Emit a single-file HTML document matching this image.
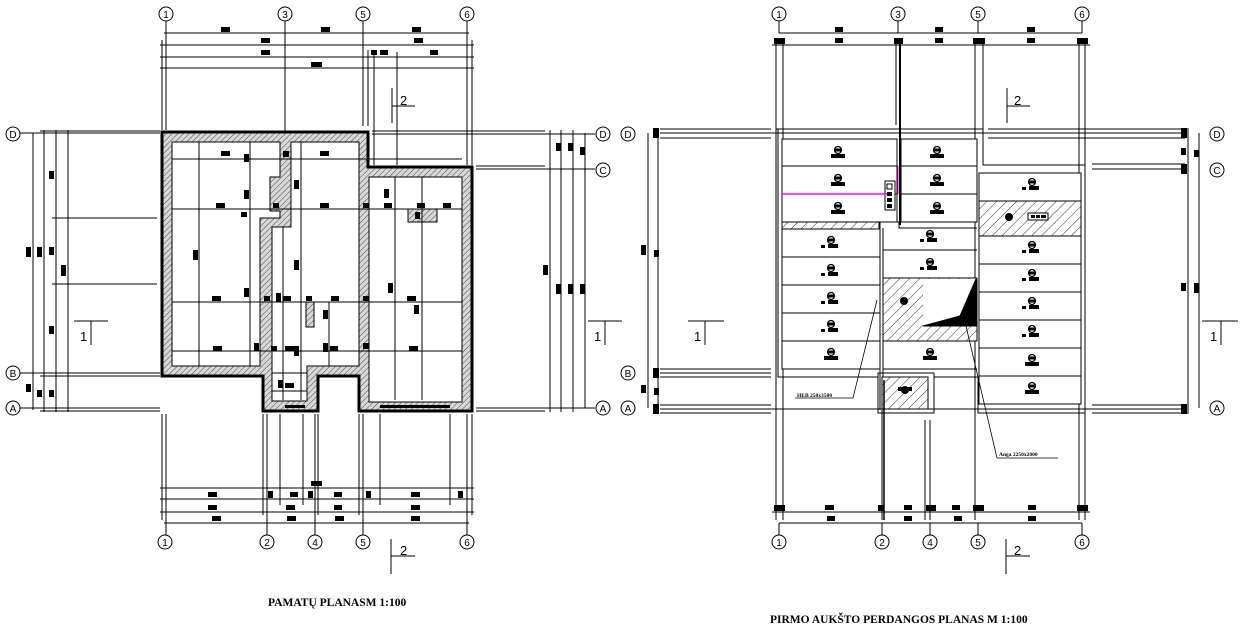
<!DOCTYPE html>
<html><head><meta charset="utf-8"><style>
html,body{margin:0;padding:0;background:#fff;}
svg{display:block;}
</style></head><body>
<svg width="1240" height="644" viewBox="0 0 1240 644" xmlns="http://www.w3.org/2000/svg" font-family="Liberation Sans, sans-serif">
<defs>
<pattern id="h" width="4" height="4" patternUnits="userSpaceOnUse" patternTransform="rotate(45)">
<rect width="4" height="4" fill="#d8d8d8"/><line x1="0" y1="0" x2="0" y2="4" stroke="#222" stroke-width="0.8"/></pattern>
<pattern id="h2" width="7" height="7" patternUnits="userSpaceOnUse" patternTransform="rotate(45)">
<rect width="7" height="7" fill="#fff"/><line x1="0" y1="0" x2="0" y2="7" stroke="#000" stroke-width="0.8"/></pattern>
<g id="sl"><circle cx="0" cy="0" r="3.5" fill="#fff" stroke="#000" stroke-width="1.2"/><rect x="-3" y="-1.5" width="6" height="3"/><rect x="-7" y="4" width="14" height="4"/></g>
<g id="sl2"><circle cx="0" cy="0" r="3.5" fill="#fff" stroke="#000" stroke-width="1.2"/><rect x="-3" y="-1.5" width="6" height="3"/><rect x="-3" y="4" width="10" height="4"/><rect x="-10" y="5" width="4" height="3"/></g>
</defs>
<g stroke="#000" stroke-width="1" fill="none">
<line x1="166" y1="21" x2="166" y2="130"/><line x1="285" y1="21" x2="285" y2="132"/><line x1="363" y1="21" x2="363" y2="126"/><line x1="467" y1="21" x2="467" y2="165"/>
<line x1="162" y1="40" x2="162" y2="130"/><line x1="472" y1="40" x2="472" y2="165"/>
<line x1="368" y1="50" x2="368" y2="126"/><line x1="374" y1="55" x2="374" y2="165"/><line x1="397" y1="52" x2="397" y2="165"/>
<line x1="164" y1="33" x2="469" y2="33"/><line x1="160" y1="45" x2="474" y2="45"/><line x1="160" y1="57" x2="474" y2="57"/><line x1="160" y1="68" x2="474" y2="68"/>
<line x1="20" y1="133" x2="160" y2="133"/><line x1="40" y1="131" x2="160" y2="131"/>
<line x1="372" y1="131" x2="545" y2="131"/><line x1="372" y1="134" x2="595" y2="134"/>
<line x1="476" y1="166" x2="545" y2="166"/><line x1="476" y1="169" x2="595" y2="169"/>
<line x1="20" y1="373" x2="160" y2="373"/><line x1="40" y1="376" x2="160" y2="376"/>
<line x1="20" y1="408" x2="160" y2="408"/><line x1="40" y1="411" x2="160" y2="411"/>
<line x1="476" y1="408" x2="595" y2="408"/><line x1="476" y1="411" x2="545" y2="411"/>
<line x1="52" y1="218" x2="157" y2="218"/><line x1="52" y1="284" x2="157" y2="284"/>
<line x1="33" y1="133" x2="33" y2="410"/><line x1="44" y1="130" x2="44" y2="412"/><line x1="56" y1="130" x2="56" y2="412"/><line x1="68" y1="130" x2="68" y2="412"/>
<line x1="550" y1="130" x2="550" y2="412"/><line x1="561" y1="130" x2="561" y2="412"/><line x1="573" y1="130" x2="573" y2="412"/><line x1="585" y1="133" x2="585" y2="408"/>
<line x1="162" y1="414" x2="162" y2="520"/><line x1="166" y1="414" x2="166" y2="535"/>
<line x1="263" y1="414" x2="263" y2="515"/><line x1="267" y1="414" x2="267" y2="535"/><line x1="280" y1="414" x2="280" y2="505"/><line x1="303" y1="414" x2="303" y2="505"/>
<line x1="315" y1="414" x2="315" y2="535"/><line x1="318" y1="414" x2="318" y2="515"/>
<line x1="359" y1="414" x2="359" y2="515"/><line x1="363" y1="414" x2="363" y2="535"/><line x1="380" y1="414" x2="380" y2="505"/><line x1="450" y1="414" x2="450" y2="505"/>
<line x1="467" y1="414" x2="467" y2="535"/><line x1="472" y1="414" x2="472" y2="515"/>
<line x1="160" y1="488" x2="474" y2="488"/><line x1="160" y1="499" x2="474" y2="499"/><line x1="160" y1="512" x2="474" y2="512"/><line x1="164" y1="523" x2="469" y2="523"/>
<path d="M162,132 H368 V167 H472 V411 H359 V376 H318 V411 H263 V376 H162 Z" fill="url(#h)"/>
<path d="M172,142 H280 V177 H270 V211 H280 V218 H260 V366 H172 Z" fill="#fff"/>
<path d="M291,142 H359 V366 H307 V401 H272 V227 H291 Z" fill="#fff"/>
<path d="M369,177 H462 V402 H369 Z" fill="#fff"/>
<rect x="306" y="302" width="8" height="25" fill="url(#h)"/>
<rect x="408" y="209" width="29" height="13" fill="url(#h)"/>
<path d="M162,132 H368 V167 H472 V411 H359 V376 H318 V411 H263 V376 H162 Z" stroke-width="3"/>
<line x1="172" y1="159" x2="462" y2="159"/><line x1="172" y1="209" x2="462" y2="209"/><line x1="172" y1="302" x2="462" y2="302"/><line x1="172" y1="351" x2="462" y2="351"/>
<line x1="199" y1="142" x2="199" y2="366"/><line x1="250" y1="142" x2="250" y2="366"/><line x1="283" y1="227" x2="283" y2="400"/><line x1="301" y1="142" x2="301" y2="400"/><line x1="329" y1="302" x2="329" y2="366"/><line x1="395" y1="177" x2="395" y2="400"/><line x1="422" y1="177" x2="422" y2="400"/>
<line x1="272" y1="373" x2="307" y2="373"/><line x1="272" y1="391" x2="307" y2="391"/>
<line x1="392" y1="88" x2="392" y2="123"/><line x1="392" y1="106" x2="415" y2="106"/>
<line x1="391" y1="539" x2="391" y2="574"/><line x1="391" y1="556" x2="415" y2="556"/>
<line x1="74" y1="321" x2="108" y2="321"/><line x1="91" y1="321" x2="91" y2="345"/>
<line x1="588" y1="321" x2="622" y2="321"/><line x1="605" y1="321" x2="605" y2="345"/>

<line x1="779" y1="21" x2="779" y2="33"/><line x1="898" y1="21" x2="898" y2="33"/><line x1="978" y1="21" x2="978" y2="33"/><line x1="1082" y1="21" x2="1082" y2="33"/>
<line x1="779" y1="33" x2="1082" y2="33"/><line x1="772" y1="45" x2="1090" y2="45"/>
<line x1="776" y1="40" x2="776" y2="520"/><line x1="783" y1="40" x2="783" y2="520"/>
<line x1="896" y1="40" x2="896" y2="125"/><line x1="900" y1="40" x2="900" y2="225" stroke-width="2"/>
<line x1="975" y1="40" x2="975" y2="520"/><line x1="983" y1="40" x2="983" y2="165"/>
<line x1="1079" y1="40" x2="1079" y2="520"/><line x1="1085" y1="40" x2="1085" y2="520"/>
<line x1="660" y1="129" x2="771" y2="129"/><line x1="660" y1="133" x2="1185" y2="133"/><line x1="660" y1="138" x2="771" y2="138"/>
<line x1="988" y1="129" x2="1185" y2="129"/><line x1="988" y1="138" x2="1185" y2="138"/>
<line x1="776" y1="129" x2="983" y2="129"/>
<line x1="1092" y1="164" x2="1185" y2="164"/><line x1="1092" y1="169" x2="1185" y2="169"/><line x1="983" y1="165" x2="1085" y2="165"/>
<line x1="660" y1="369" x2="771" y2="369"/><line x1="660" y1="373" x2="771" y2="373"/><line x1="660" y1="377" x2="771" y2="377"/>
<line x1="660" y1="405" x2="771" y2="405"/><line x1="660" y1="409" x2="1185" y2="409"/><line x1="660" y1="413" x2="771" y2="413"/>
<line x1="1092" y1="405" x2="1185" y2="405"/><line x1="1092" y1="413" x2="1185" y2="413"/>
<line x1="648" y1="133" x2="648" y2="408"/><line x1="658" y1="128" x2="658" y2="414"/>
<line x1="1188" y1="128" x2="1188" y2="414"/><line x1="1199" y1="133" x2="1199" y2="408"/>
<path d="M778,129 H983 V165 H1085 V413 H978 V377 H934 V413 H878 V377 H778 Z"/>
<rect x="782" y="139" width="115" height="83" fill="#fff"/>
<line x1="782" y1="166" x2="897" y2="166"/><line x1="782" y1="194" x2="897" y2="194"/>
<rect x="782" y="222" width="97" height="7" fill="url(#h2)"/>
<rect x="782" y="229" width="98" height="140" fill="#fff"/>
<line x1="782" y1="257" x2="880" y2="257"/><line x1="782" y1="285" x2="880" y2="285"/><line x1="782" y1="313" x2="880" y2="313"/><line x1="782" y1="341" x2="880" y2="341"/>
<rect x="901" y="139" width="76" height="83" fill="#fff"/>
<line x1="901" y1="166" x2="977" y2="166"/><line x1="901" y1="194" x2="977" y2="194"/>
<path d="M880,222 H899 V228 H977" /><line x1="880" y1="222" x2="880" y2="410"/><line x1="883" y1="228" x2="883" y2="410"/>
<line x1="883" y1="250" x2="977" y2="250"/><line x1="883" y1="278" x2="977" y2="278"/>
<rect x="883" y="278" width="94" height="63" fill="url(#h2)"/>
<rect x="923" y="279" width="53" height="47" fill="#fff" stroke="none"/>
<path d="M923,326 L960,316 L976,279 V326 Z" fill="#000"/>
<line x1="883" y1="341" x2="977" y2="341"/><line x1="883" y1="369" x2="977" y2="369"/>
<rect x="882" y="377" width="46" height="32" fill="url(#h2)"/>
<rect x="878" y="373" width="56" height="40"/>
<rect x="979" y="173" width="102" height="231" fill="#fff"/>
<rect x="979" y="201" width="102" height="35" fill="url(#h2)"/>
<line x1="979" y1="264" x2="1081" y2="264"/><line x1="979" y1="292" x2="1081" y2="292"/><line x1="979" y1="320" x2="1081" y2="320"/><line x1="979" y1="348" x2="1081" y2="348"/><line x1="979" y1="376" x2="1081" y2="376"/>
<rect x="885" y="181" width="10" height="29" fill="#fff"/>
<rect x="1028" y="213" width="20" height="7" fill="#fff"/>
<line x1="782" y1="194" x2="888" y2="194" stroke="#ff00ff" stroke-width="1.5"/>
<line x1="898" y1="166" x2="898" y2="194" stroke="#ff00ff"/>
<path d="M877,300 L853,398 H795" stroke-width="0.8"/>
<path d="M966,326 L997,458 H1058" stroke-width="0.8"/>
<line x1="882" y1="410" x2="882" y2="520"/><line x1="884" y1="380" x2="884" y2="520" stroke-width="1.5"/>
<line x1="925" y1="420" x2="925" y2="520"/><line x1="930" y1="420" x2="930" y2="520"/>
<line x1="772" y1="512" x2="1090" y2="512"/><line x1="779" y1="523" x2="1082" y2="523"/>
<line x1="779" y1="523" x2="779" y2="535"/><line x1="882" y1="523" x2="882" y2="535"/><line x1="930" y1="523" x2="930" y2="535"/><line x1="978" y1="523" x2="978" y2="535"/><line x1="1082" y1="523" x2="1082" y2="535"/>
<line x1="1007" y1="88" x2="1007" y2="123"/><line x1="1007" y1="106" x2="1030" y2="106"/>
<line x1="1006" y1="539" x2="1006" y2="574"/><line x1="1006" y1="556" x2="1030" y2="556"/>
<line x1="688" y1="321" x2="724" y2="321"/><line x1="705" y1="321" x2="705" y2="345"/>
<line x1="1202" y1="321" x2="1238" y2="321"/><line x1="1221" y1="321" x2="1221" y2="345"/>
<g fill="#fff">
<circle cx="166" cy="14" r="7"/><circle cx="285" cy="14" r="7"/><circle cx="363" cy="14" r="7"/><circle cx="467" cy="14" r="7"/>
<circle cx="165" cy="542" r="7"/><circle cx="267" cy="542" r="7"/><circle cx="315" cy="542" r="7"/><circle cx="363" cy="542" r="7"/><circle cx="467" cy="542" r="7"/>
<circle cx="13" cy="134" r="7"/><circle cx="13" cy="373" r="7"/><circle cx="13" cy="408" r="7"/>
<circle cx="603" cy="134" r="7"/><circle cx="603" cy="170" r="7"/><circle cx="603" cy="408" r="7"/>
<circle cx="779" cy="14" r="7"/><circle cx="898" cy="14" r="7"/><circle cx="978" cy="14" r="7"/><circle cx="1082" cy="14" r="7"/>
<circle cx="779" cy="542" r="7"/><circle cx="882" cy="542" r="7"/><circle cx="930" cy="542" r="7"/><circle cx="978" cy="542" r="7"/><circle cx="1082" cy="542" r="7"/>
<circle cx="628" cy="134" r="7"/><circle cx="628" cy="373" r="7"/><circle cx="628" cy="408" r="7"/>
<circle cx="1217" cy="134" r="7"/><circle cx="1217" cy="170" r="7"/><circle cx="1217" cy="408" r="7"/>
</g>
</g>
<g fill="#000">
<rect x="221" y="27" width="9" height="5"/><rect x="321" y="27" width="9" height="5"/><rect x="412" y="27" width="9" height="5"/>
<rect x="261" y="38" width="9" height="5"/><rect x="414" y="38" width="9" height="5"/>
<rect x="261" y="50" width="9" height="5"/><rect x="371" y="50" width="6" height="5"/><rect x="380" y="50" width="8" height="5"/><rect x="430" y="50" width="8" height="5"/>
<rect x="311" y="62" width="11" height="5"/>
<rect x="49" y="171" width="5" height="8"/><rect x="26" y="247" width="5" height="10"/><rect x="37" y="247" width="5" height="10"/><rect x="49" y="247" width="5" height="8"/><rect x="61" y="265" width="5" height="11"/><rect x="49" y="326" width="5" height="8"/>
<rect x="26" y="384" width="5" height="8"/><rect x="37" y="390" width="5" height="7"/><rect x="49" y="390" width="5" height="7"/>
<rect x="556" y="143" width="5" height="8"/><rect x="568" y="143" width="5" height="8"/><rect x="580" y="147" width="5" height="8"/>
<rect x="543" y="265" width="5" height="10"/><rect x="556" y="284" width="5" height="10"/><rect x="568" y="284" width="5" height="10"/><rect x="580" y="284" width="5" height="10"/>
<rect x="221" y="151" width="9" height="5"/><rect x="244" y="154" width="5" height="8"/><rect x="283" y="151" width="6" height="6"/><rect x="320" y="151" width="9" height="5"/>
<rect x="244" y="190" width="5" height="9"/><rect x="294" y="180" width="5" height="9"/>
<rect x="216" y="203" width="9" height="5"/><rect x="241" y="212" width="6" height="5"/><rect x="273" y="203" width="6" height="5"/><rect x="320" y="203" width="9" height="5"/><rect x="363" y="203" width="6" height="5"/><rect x="384" y="203" width="8" height="5"/><rect x="417" y="203" width="8" height="5"/><rect x="443" y="203" width="8" height="5"/><rect x="415" y="212" width="5" height="7"/><rect x="384" y="189" width="5" height="9"/>
<rect x="193" y="250" width="5" height="10"/><rect x="294" y="260" width="5" height="10"/>
<rect x="212" y="296" width="9" height="5"/><rect x="244" y="288" width="5" height="9"/><rect x="264" y="296" width="6" height="5"/><rect x="276" y="293" width="5" height="9"/><rect x="283" y="296" width="8" height="5"/><rect x="306" y="296" width="6" height="5"/><rect x="331" y="296" width="8" height="5"/><rect x="363" y="296" width="6" height="5"/><rect x="407" y="296" width="9" height="5"/><rect x="388" y="283" width="5" height="10"/><rect x="414" y="305" width="5" height="9"/><rect x="323" y="310" width="5" height="9"/>
<rect x="213" y="346" width="9" height="5"/><rect x="254" y="343" width="5" height="8"/><rect x="271" y="346" width="6" height="5"/><rect x="285" y="346" width="10" height="5"/><rect x="294" y="346" width="5" height="10"/><rect x="323" y="343" width="5" height="9"/><rect x="330" y="346" width="8" height="5"/><rect x="363" y="343" width="6" height="6"/><rect x="409" y="346" width="9" height="5"/>
<rect x="278" y="380" width="5" height="8"/><rect x="285" y="383" width="9" height="5"/>
<rect x="285" y="405" width="20" height="3"/><rect x="380" y="405" width="70" height="3"/>
<rect x="311" y="481" width="11" height="5"/>
<rect x="208" y="492" width="9" height="5"/><rect x="268" y="491" width="5" height="7"/><rect x="290" y="492" width="8" height="5"/><rect x="308" y="491" width="5" height="7"/><rect x="334" y="492" width="8" height="5"/><rect x="366" y="491" width="5" height="7"/><rect x="411" y="492" width="9" height="5"/><rect x="458" y="491" width="5" height="7"/>
<rect x="208" y="505" width="9" height="5"/><rect x="286" y="505" width="9" height="5"/><rect x="334" y="505" width="8" height="5"/><rect x="411" y="505" width="9" height="5"/>
<rect x="212" y="516" width="9" height="5"/><rect x="287" y="516" width="9" height="5"/><rect x="335" y="516" width="9" height="5"/><rect x="411" y="516" width="9" height="5"/>
<rect x="835" y="27" width="8" height="5"/><rect x="935" y="27" width="8" height="5"/><rect x="1027" y="27" width="8" height="5"/>
<rect x="835" y="38" width="8" height="5"/><rect x="935" y="38" width="8" height="5"/><rect x="1027" y="38" width="8" height="5"/>
<rect x="774" y="38" width="11" height="6"/><rect x="894" y="38" width="9" height="6"/><rect x="973" y="38" width="12" height="6"/><rect x="1077" y="38" width="11" height="6"/>
<rect x="653" y="128" width="6" height="10"/><rect x="653" y="368" width="6" height="10"/><rect x="653" y="404" width="6" height="10"/>
<rect x="641" y="245" width="5" height="10"/><rect x="654" y="250" width="5" height="7"/><rect x="641" y="385" width="5" height="8"/><rect x="654" y="388" width="5" height="7"/>
<rect x="1181" y="128" width="6" height="10"/><rect x="1181" y="164" width="6" height="10"/><rect x="1181" y="404" width="6" height="10"/>
<rect x="1181" y="148" width="5" height="7"/><rect x="1194" y="150" width="5" height="7"/><rect x="1181" y="283" width="5" height="8"/><rect x="1194" y="283" width="5" height="10"/>
<rect x="774" y="505" width="11" height="6"/><rect x="878" y="505" width="6" height="6"/><rect x="926" y="505" width="10" height="6"/><rect x="973" y="505" width="11" height="6"/><rect x="1077" y="505" width="11" height="6"/>
<rect x="825" y="505" width="9" height="5"/><rect x="904" y="505" width="8" height="5"/><rect x="952" y="505" width="8" height="5"/><rect x="1028" y="505" width="8" height="5"/>
<rect x="827" y="516" width="8" height="5"/><rect x="904" y="516" width="8" height="5"/><rect x="954" y="516" width="8" height="5"/><rect x="1028" y="516" width="8" height="5"/>
<rect x="887" y="184" width="5" height="5" fill="#fff" stroke="#000"/><rect x="887" y="192" width="5" height="4"/><rect x="887" y="198" width="5" height="4"/><rect x="887" y="204" width="5" height="4"/>
<rect x="1031" y="215" width="4" height="3"/><rect x="1036" y="215" width="4" height="3"/><rect x="1041" y="215" width="5" height="3"/>
</g>
<use href="#sl" x="838" y="150"/><use href="#sl" x="838" y="178"/><use href="#sl" x="838" y="206"/>
<use href="#sl" x="937" y="150"/><use href="#sl" x="937" y="178"/><use href="#sl" x="937" y="206"/>
<use href="#sl2" x="831" y="240"/><use href="#sl2" x="831" y="268"/><use href="#sl2" x="831" y="296"/><use href="#sl2" x="831" y="324"/><use href="#sl" x="831" y="352"/>
<use href="#sl2" x="930" y="234"/><use href="#sl2" x="930" y="262"/><use href="#sl" x="930" y="352"/>
<use href="#sl2" x="1032" y="182"/><use href="#sl2" x="1032" y="245"/><use href="#sl2" x="1032" y="273"/><use href="#sl2" x="1032" y="301"/><use href="#sl2" x="1032" y="329"/><use href="#sl" x="1032" y="358"/><use href="#sl" x="1032" y="386"/>
<g fill="#000"><circle cx="904" cy="301" r="4"/><circle cx="1009" cy="217" r="4"/><circle cx="905" cy="390" r="4"/><rect x="898" y="387" width="14" height="4"/></g>
<g font-size="10" fill="#000" text-anchor="middle" style="font-family:'Liberation Sans',sans-serif">
<text x="13" y="138">D</text><text x="13" y="377">B</text><text x="13" y="412">A</text>
<text x="603" y="138">D</text><text x="603" y="174">C</text><text x="603" y="412">A</text>
<text x="628" y="138">D</text><text x="628" y="377">B</text><text x="628" y="412">A</text>
<text x="1217" y="138">D</text><text x="1217" y="174">C</text><text x="1217" y="412">A</text>
<text x="166" y="18">1</text><text x="285" y="18">3</text><text x="363" y="18">5</text><text x="467" y="18">6</text>
<text x="165" y="546">1</text><text x="267" y="546">2</text><text x="315" y="546">4</text><text x="363" y="546">5</text><text x="467" y="546">6</text>
<text x="779" y="18">1</text><text x="898" y="18">3</text><text x="978" y="18">5</text><text x="1082" y="18">6</text>
<text x="779" y="546">1</text><text x="882" y="546">2</text><text x="930" y="546">4</text><text x="978" y="546">5</text><text x="1082" y="546">6</text>
</g>
<g font-size="13" fill="#000" style="font-family:'Liberation Sans',sans-serif">
<text x="400" y="105">2</text><text x="400" y="555">2</text><text x="80" y="341">1</text><text x="594" y="341">1</text>
<text x="1014" y="105">2</text><text x="1014" y="555">2</text><text x="694" y="341">1</text><text x="1210" y="341">1</text>
</g>
<text x="797" y="397" font-size="5.5" font-weight="bold" style="font-family:'Liberation Serif',serif">HEB 250x3500</text>
<text x="999" y="456" font-size="5.5" font-weight="bold" style="font-family:'Liberation Serif',serif">Anga 2250x2000</text>
<text x="268" y="606" font-size="11.5" font-weight="bold" style="font-family:'Liberation Serif',serif">PAMATŲ PLANASM 1:100</text>
<text x="770" y="623" font-size="11.5" font-weight="bold" style="font-family:'Liberation Serif',serif">PIRMO AUKŠTO PERDANGOS PLANAS M 1:100</text>
</svg>
</body></html>
